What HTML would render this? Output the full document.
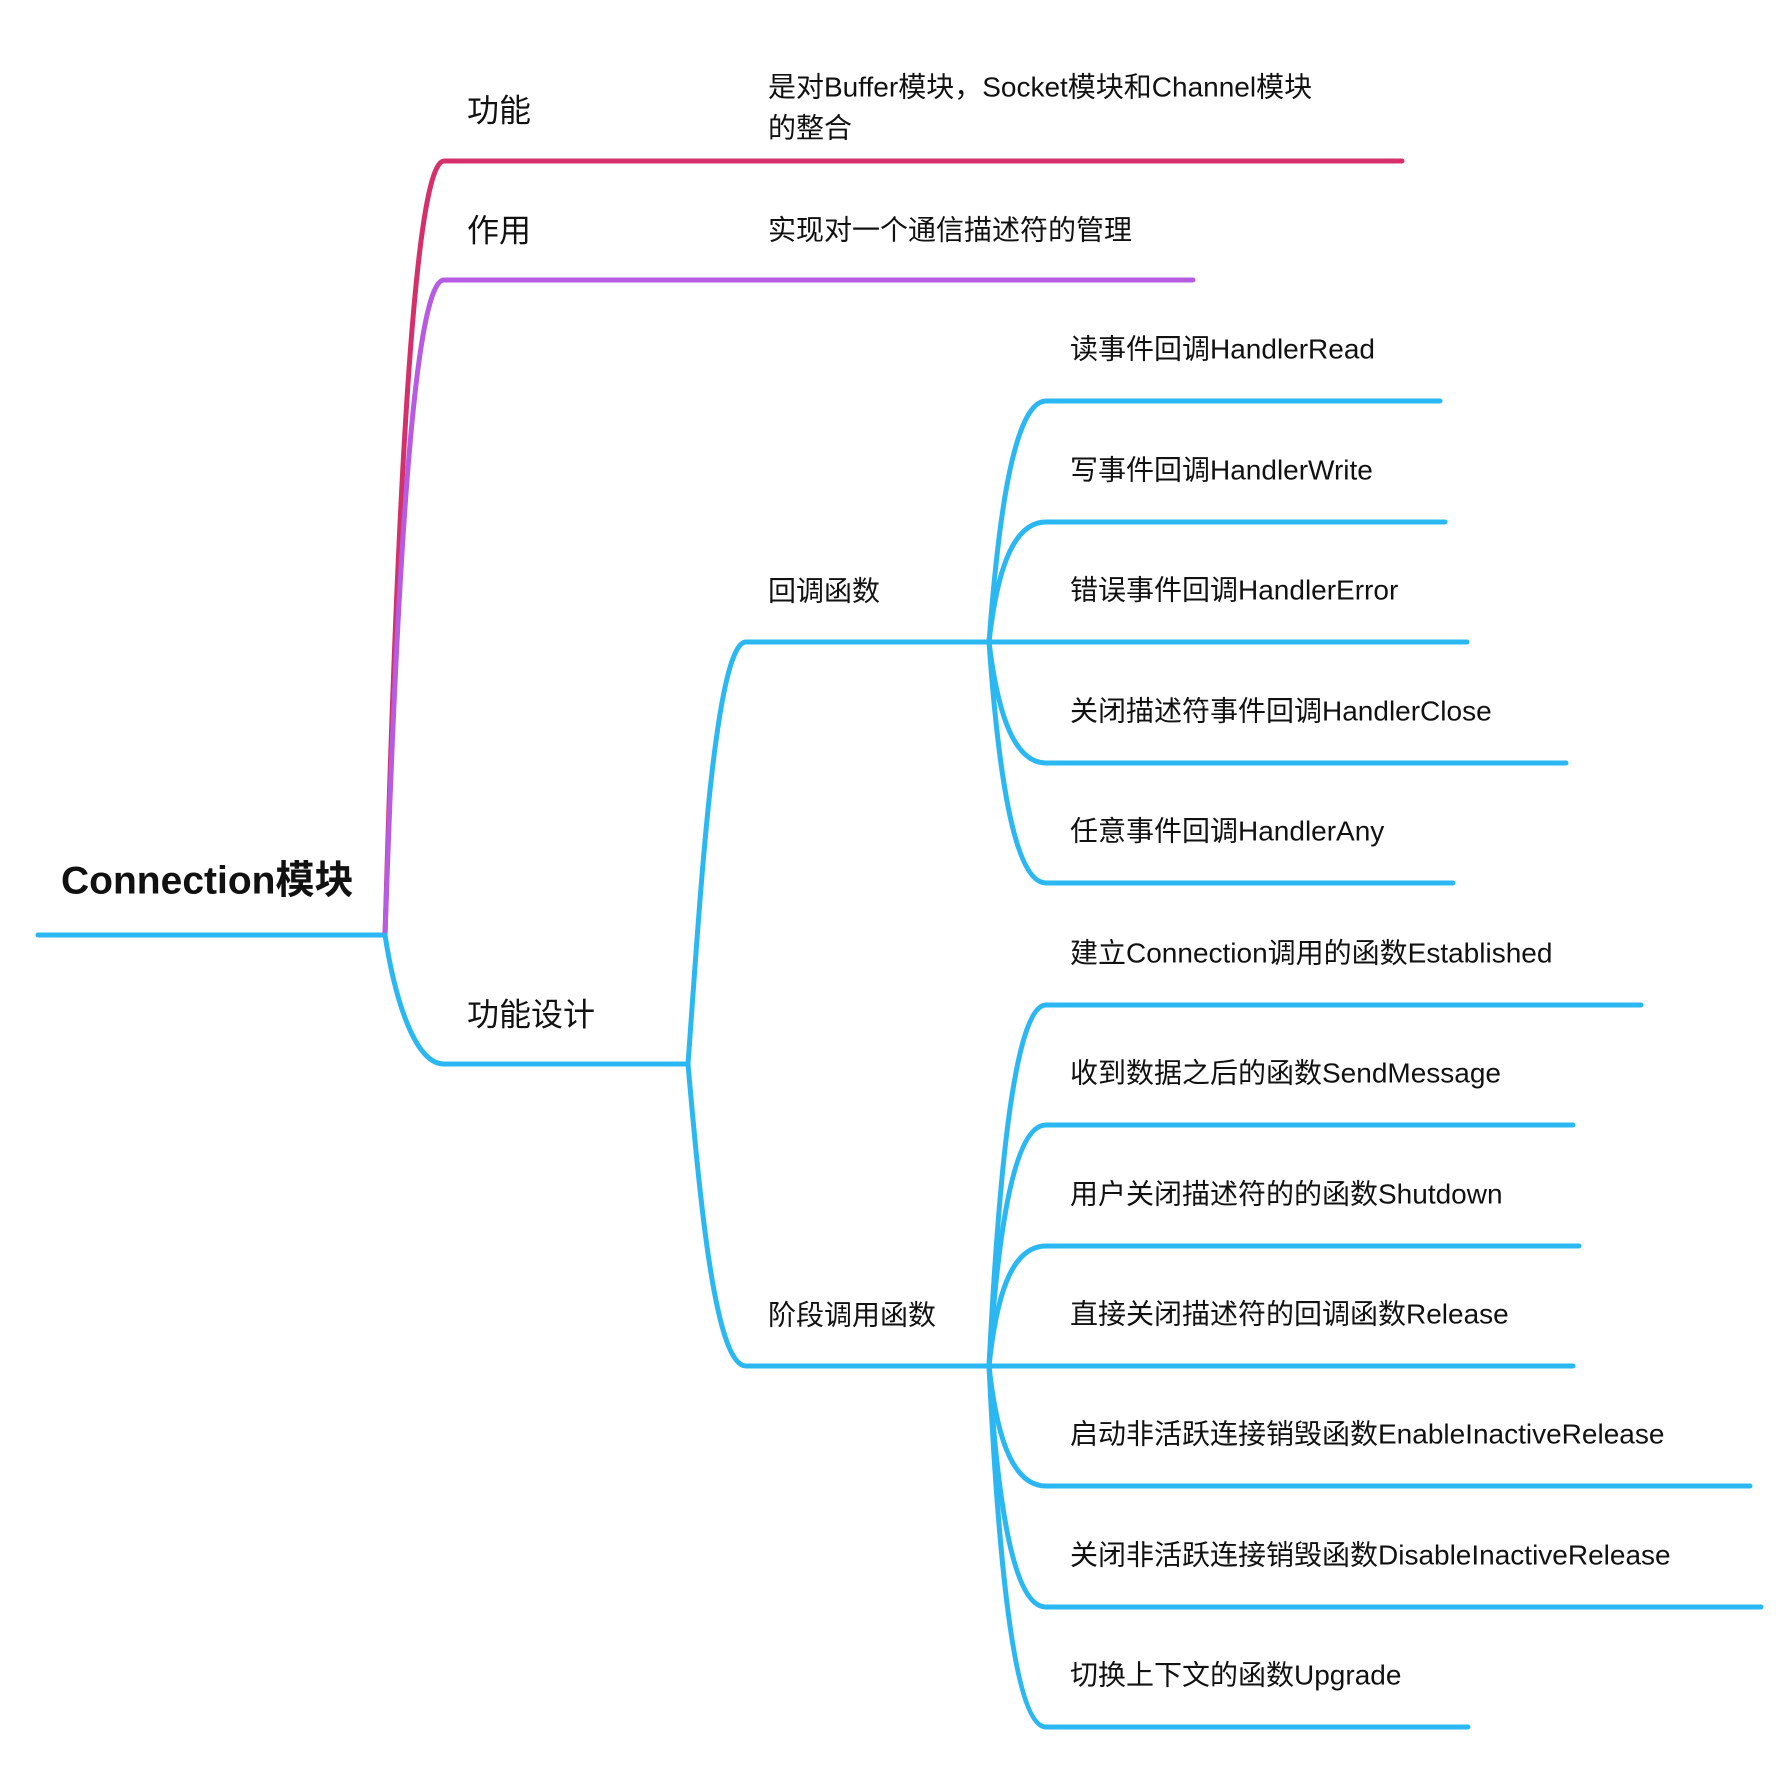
<!DOCTYPE html>
<html><head><meta charset="utf-8"><style>
html,body{margin:0;padding:0;background:#fff;}
svg text{font-family:"Liberation Sans","Noto Sans CJK SC",sans-serif;fill:#111;dominant-baseline:middle;}
</style></head><body>
<svg width="1789" height="1760" viewBox="0 0 1789 1760" xmlns="http://www.w3.org/2000/svg">
<g fill="none" stroke-width="5" stroke-linecap="round">
<!-- root -->
<path d="M38 935 L385 935" stroke="#2bb8f2"/>
<!-- level1 -->
<path d="M385 935 C395 600 410 161 444 161 L1402 161" stroke="#d5306a"/>
<path d="M385 935 C395 650 410 280 444 280 L1193 280" stroke="#b85be3"/>
<path d="M385 935 C395 1000 415 1064 444 1064 L688 1064" stroke="#2bb8f2"/>
<!-- level2 -->
<g stroke="#2bb8f2">
<path d="M688 1064 C700 900 715 642 746 642 L989 642"/>
<path d="M688 1064 C700 1200 715 1366 746 1366 L989 1366"/>
<!-- callbacks -->
<path d="M989 642 C996 550 1010 401 1046 401 L1440 401"/>
<path d="M989 642 C996 580 1010 522 1046 522 L1445 522"/>
<path d="M989 642 L1467 642"/>
<path d="M989 642 C996 700 1010 763 1046 763 L1566 763"/>
<path d="M989 642 C996 740 1010 883 1046 883 L1453 883"/>
<!-- stage -->
<path d="M989 1366 C996 1230 1010 1005 1046 1005 L1641 1005"/>
<path d="M989 1366 C996 1260 1010 1125 1046 1125 L1573 1125"/>
<path d="M989 1366 C996 1300 1010 1246 1046 1246 L1579 1246"/>
<path d="M989 1366 L1573 1366"/>
<path d="M989 1366 C996 1430 1010 1486 1046 1486 L1750 1486"/>
<path d="M989 1366 C996 1480 1010 1607 1046 1607 L1761 1607"/>
<path d="M989 1366 C996 1510 1010 1727 1046 1727 L1468 1727"/>
</g>
</g>
<text x="61" y="883" font-size="39" font-weight="bold">Connection模块</text>
<text x="467" y="113" font-size="32">功能</text>
<text x="467" y="233" font-size="32">作用</text>
<text x="467" y="1017" font-size="32">功能设计</text>
<g font-size="28">
<text x="768" y="89">是对Buffer模块，Socket模块和Channel模块</text>
<text x="768" y="130">的整合</text>
<text x="768" y="232">实现对一个通信描述符的管理</text>
<text x="768" y="593">回调函数</text>
<text x="768" y="1317">阶段调用函数</text>
<text x="1070" y="351">读事件回调HandlerRead</text>
<text x="1070" y="472">写事件回调HandlerWrite</text>
<text x="1070" y="592">错误事件回调HandlerError</text>
<text x="1070" y="713">关闭描述符事件回调HandlerClose</text>
<text x="1070" y="833">任意事件回调HandlerAny</text>
<text x="1070" y="955">建立Connection调用的函数Established</text>
<text x="1070" y="1075">收到数据之后的函数SendMessage</text>
<text x="1070" y="1196">用户关闭描述符的的函数Shutdown</text>
<text x="1070" y="1316">直接关闭描述符的回调函数Release</text>
<text x="1070" y="1436">启动非活跃连接销毁函数EnableInactiveRelease</text>
<text x="1070" y="1557">关闭非活跃连接销毁函数DisableInactiveRelease</text>
<text x="1070" y="1677">切换上下文的函数Upgrade</text>
</g>
</svg>
</body></html>
